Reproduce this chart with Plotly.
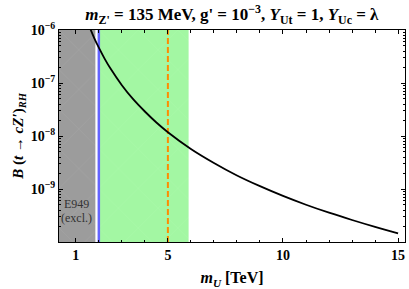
import plotly.graph_objects as go

# Data
m_U = [1.6, 1.8, 2.0, 2.25, 2.5, 3.0, 3.5, 4.0, 4.5, 5.0, 6.0, 7.0, 8.0, 9.0,
       10.0, 11.0, 12.0, 13.0, 14.0, 15.0]
B_RH = [1.13e-6, 7.05e-7, 4.63e-7, 2.89e-7, 1.89e-7, 9.1e-8, 4.9e-8, 2.9e-8,
        1.8e-8, 1.18e-8, 5.7e-9, 3.1e-9, 1.8e-9, 1.13e-9, 7.4e-10, 5.05e-10,
        3.57e-10, 2.6e-10, 1.93e-10, 1.46e-10]

x_range = [0.27, 15.3]
y_range = [1e-10, 1e-6]
excl_band = [0.27, 1.85]      # E949 excluded (gray)
green_band = [2.05, 5.9]      # green band
blue_line_x = 2.0
orange_line_x = 5.0
x_tickvals = [1, 5, 10, 15]
y_tickvals = [1e-9, 1e-8, 1e-7, 1e-6]
y_ticktext = ["10<sup>−9</sup>", "10<sup>−8</sup>", "10<sup>−7</sup>", "10<sup>−6</sup>"]

FONT = "Liberation Serif"

fig = go.Figure()

def band(xs, fill, pat):
    x0, x1 = xs
    return go.Scatter(
        x=[x0, x1, x1, x0, x0],
        y=[y_range[0], y_range[0], y_range[1], y_range[1], y_range[0]],
        mode="lines", line=dict(width=0), fill="toself", fillcolor=fill,
        fillpattern=dict(shape="x", fgcolor=pat, bgcolor=fill, size=28,
                         solidity=0.03),
        hoverinfo="skip", showlegend=False)

fig.add_trace(band(excl_band, "#9c9c9c", "#b4b4b4"))
fig.add_trace(band(green_band, "#a3f7a3", "#b8fbb8"))

fig.add_trace(go.Scatter(x=[blue_line_x, blue_line_x], y=y_range, mode="lines",
                         line=dict(color="#6464ff", width=2.5), showlegend=False))
fig.add_trace(go.Scatter(x=[orange_line_x, orange_line_x], y=y_range, mode="lines",
                         line=dict(color="#ff8c00", width=2, dash="6px,3px"),
                         showlegend=False))
fig.add_trace(go.Scatter(x=m_U, y=B_RH, mode="lines",
                         line=dict(color="black", width=1.8, shape="spline"),
                         showlegend=False))

fig.add_annotation(x=1.05, y=0.18, xref="x", yref="paper", text="E949",
                   showarrow=False, xanchor="center", yanchor="middle",
                   font=dict(family=FONT, size=12, color="#333"))
fig.add_annotation(x=1.05, y=0.115, xref="x", yref="paper", text="(excl.)",
                   showarrow=False, xanchor="center", yanchor="middle",
                   font=dict(family=FONT, size=12, color="#333"))

fig.update_layout(
    width=409, height=289,
    margin=dict(l=59, r=4, t=30, b=47),
    paper_bgcolor="white", plot_bgcolor="white",
    font=dict(family=FONT, color="black"),
    title=dict(
        text="<b><i>m</i><sub>Z'</sub> = 135 MeV, g' = 10<sup>−3</sup>, "
             "<i>Y</i><sub>Ut</sub> = 1, <i>Y</i><sub>Uc</sub> = λ</b>",
        x=0.567, xanchor="center", y=0.95, yanchor="middle",
        font=dict(family=FONT, size=17, color="black")),
    xaxis=dict(
        range=x_range, tickvals=x_tickvals, ticktext=[str(v) for v in x_tickvals],
        automargin=False,
        ticks="inside", ticklen=4, tickwidth=1, tickcolor="black",
        showline=True, linecolor="black", linewidth=1, mirror="allticks",
        showgrid=False, zeroline=False,
        minor=dict(dtick=1, tick0=0, ticks="inside", ticklen=2.5,
                   tickcolor="black", showgrid=False),
        tickfont=dict(family=FONT, size=14, weight="bold"),
        title=dict(text="<b><i>m<sub>U</sub></i> [TeV]</b>", standoff=10,
                   font=dict(family=FONT, size=16)),
    ),
    yaxis=dict(
        type="log", range=[-10, -6], automargin=False,
        tickvals=y_tickvals, ticktext=y_ticktext,
        ticks="inside", ticklen=4, tickwidth=1, tickcolor="black",
        showline=True, linecolor="black", linewidth=1, mirror="allticks",
        showgrid=False, zeroline=False,
        minor=dict(dtick="D1", ticks="inside", ticklen=2, tickcolor="black",
                   showgrid=False),
        tickfont=dict(family=FONT, size=14, weight="bold"),
        title=dict(text="<b><i>B</i> (<i>t</i> → <i>cZ′</i>)<sub><i>RH</i></sub></b>",
                   standoff=3, font=dict(family=FONT, size=15)),
    ),
)

fig.write_html("out.html",
               config={"displayModeBar": False},
               post_script="document.body.style.margin='0';"
                           "document.body.style.overflow='hidden';")
